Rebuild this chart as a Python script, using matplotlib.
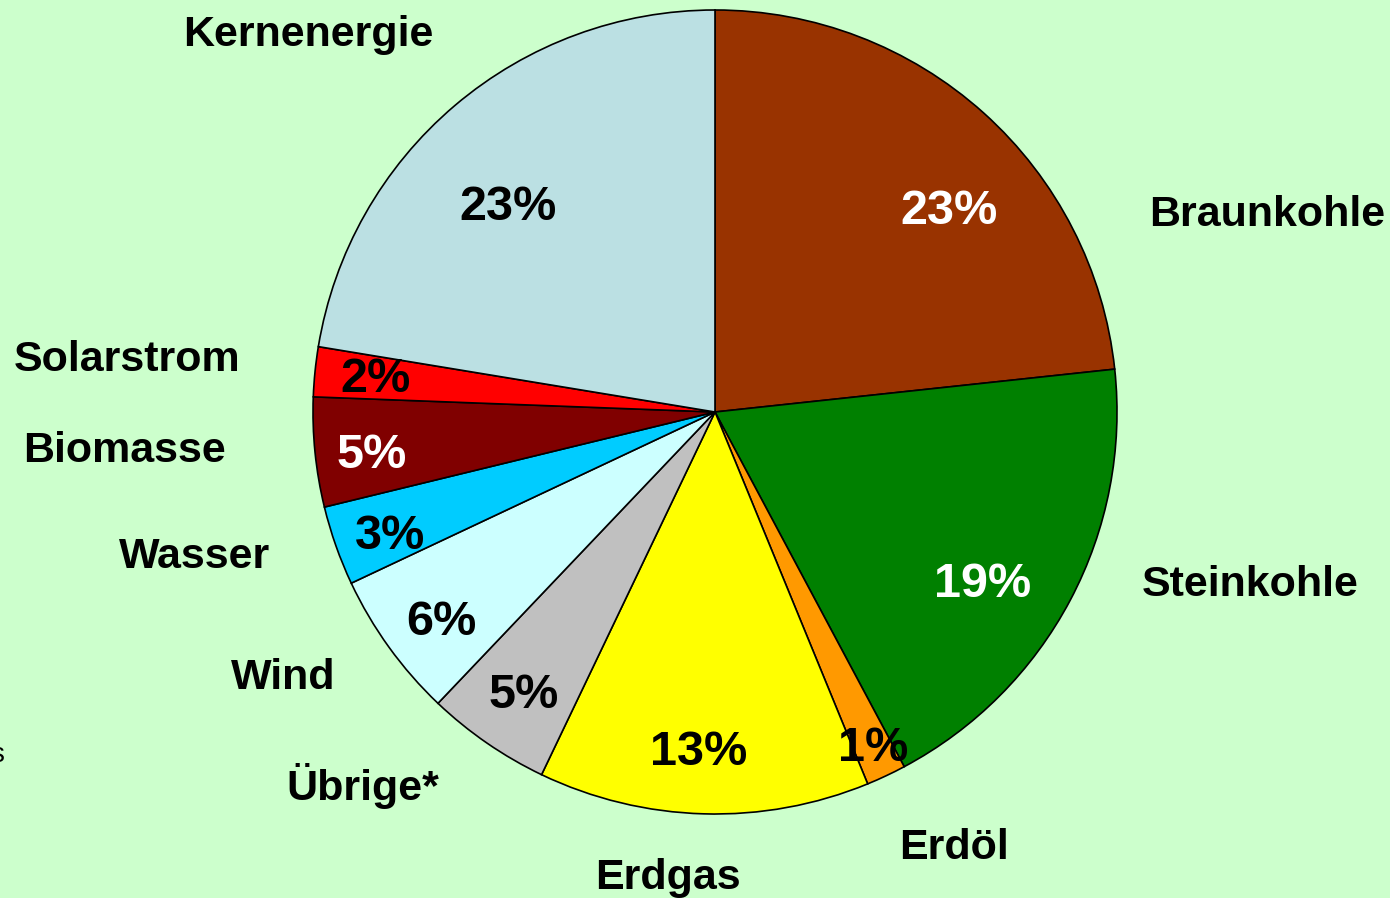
import matplotlib
matplotlib.use("Agg")
import matplotlib.pyplot as plt

# ---- data (clockwise from 12 o'clock) ----
sources = ["Braunkohle", "Steinkohle", "Erdöl", "Erdgas", "Übrige*",
           "Wind", "Wasser", "Biomasse", "Solarstrom", "Kernenergie"]
shares = [23.3, 18.9, 1.6, 13.3, 5.0, 5.9, 3.2, 4.4, 2.0, 22.4]
pct_labels = ["23%", "19%", "1%", "13%", "5%", "6%", "3%", "5%", "2%", "23%"]

# ---- styles / layout ----
colors = ["#993300", "#008000", "#FF9900", "#FFFF00", "#C0C0C0",
          "#CCFFFF", "#00CCFF", "#800000", "#FF0000", "#BBE0E3"]
pct_colors = ["white", "white", "black", "black", "black",
              "black", "black", "white", "black", "black"]
BG = "#CCFFCC"
W, H = 1390, 898
CX, CY, R = 715, 412, 402
DY = 3  # vertical text nudge in pixels

# label centers in pixel coords (layout only)
name_pos = [(1267, 212), (1250, 582), (954, 845), (668, 875), (363, 783),
            (283, 675), (195, 554), (124, 448), (127, 357), (308, 32)]
pct_pos = [(949, 209), (983, 582), (873, 746), (699, 750), (524, 693),
           (441, 620), (390, 534), (372, 453), (375, 376), (508, 205)]


def px(p):
    return ((p[0] - CX) / R, (CY - p[1] - DY) / R)


plt.rcParams["font.family"] = ["Liberation Sans", "DejaVu Sans"]
fig = plt.figure(figsize=(W / 100, H / 100), dpi=100)
fig.patch.set_facecolor(BG)
ax = fig.add_axes([0, 0, 1, 1])
ax.set_facecolor(BG)
ax.axis("off")

ax.pie(shares, colors=colors, startangle=90, counterclock=False,
       radius=1.0, center=(0, 0),
       wedgeprops=dict(edgecolor="black", linewidth=1.2))

ax.set_xlim(-CX / R, (W - CX) / R)
ax.set_ylim(-(H - CY) / R, CY / R)
ax.set_aspect("equal")

for name, p in zip(sources, name_pos):
    x, y = px(p)
    ax.text(x, y, name, ha="center", va="center", fontsize=31,
            fontweight="bold", color="black")

for lab, p, c in zip(pct_labels, pct_pos, pct_colors):
    x, y = px(p)
    ax.text(x, y, lab, ha="center", va="center", fontsize=35,
            fontweight="bold", color=c)

# fragment at left edge (partly outside the picture, as in the original)
x, y = px((-3, 752))
ax.text(x, y, "s", ha="center", va="center", fontsize=20, color="black")

fig.savefig("out.png", dpi=100, facecolor=BG)
